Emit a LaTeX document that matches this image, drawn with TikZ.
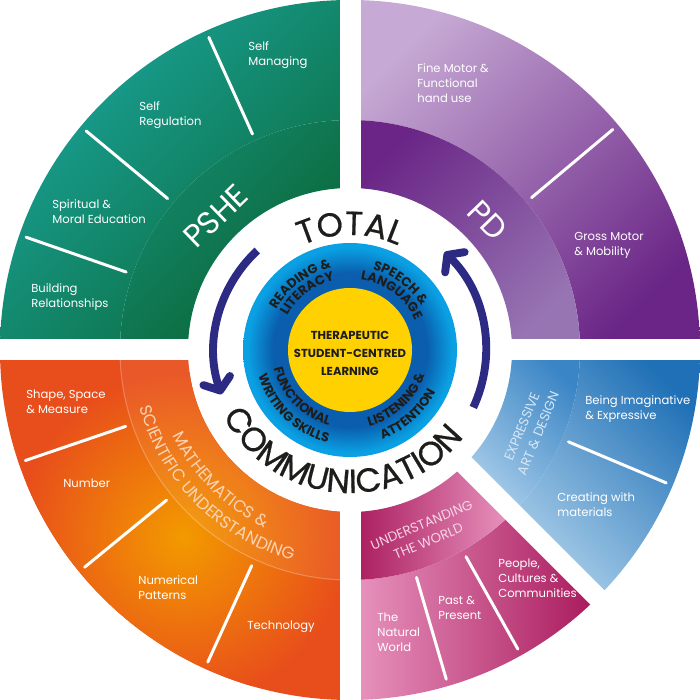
\documentclass[tikz,border=0pt]{standalone}
\usepackage{fontspec}
\setmainfont{Poppins}
\newfontfamily\ringfamily[FakeBold=0.6]{Poppins}
\usetikzlibrary{arrows.meta,decorations.text}

\definecolor{psheteal}{HTML}{1AA39A}
\definecolor{pshegreen}{HTML}{0B6B3C}
\definecolor{psheband}{HTML}{14896D}
\definecolor{pshebanddark}{HTML}{09612F}
\definecolor{pdlilac}{HTML}{C6A9D4}
\definecolor{pdpurple}{HTML}{6A2586}
\definecolor{pdband}{HTML}{9775B3}
\definecolor{mathorange}{HTML}{E84E1B}
\definecolor{mathglow}{HTML}{F39A00}
\definecolor{mathtext}{HTML}{FCD3B4}
\definecolor{eadlight}{HTML}{A8CDE9}
\definecolor{eadblue}{HTML}{1F70B6}
\definecolor{eadband}{HTML}{3A85C5}
\definecolor{eadtext}{HTML}{D6E7F5}
\definecolor{utwpink}{HTML}{E996C0}
\definecolor{utwmagenta}{HTML}{A8185B}
\definecolor{utwtext}{HTML}{F6D5E6}
\definecolor{ringcyan}{HTML}{0AA0E3}
\definecolor{ringblue}{HTML}{0A5EAD}
\definecolor{coreyellow}{HTML}{FFD100}
\definecolor{arrowindigo}{HTML}{2D2A84}
\definecolor{inktext}{HTML}{1D1D1B}

\pgfdeclareradialshading{ringshade}{\pgfpoint{0bp}{0bp}}{color(0bp)=(ringblue); color(18bp)=(ringblue); color(24bp)=(ringcyan); color(50bp)=(ringcyan)}

\newcommand\ringfont{\ringfamily\fontsize{19}{19}\selectfont}
\newcommand\bandfont{\fontsize{9.5}{9.5}\selectfont}
\newcommand\skillfont{\bfseries\fontsize{7.4}{7.4}\selectfont}

\tikzset{
  lbl/.style={text=white, font=\fontsize{6.6}{8.5}\selectfont, align=left, anchor=west, inner sep=0pt},
  divline/.style={white, line width=1.7pt, line cap=round},
  bandtitle/.style={font=\fontsize{18}{18}\selectfont, text=white, inner sep=0pt},
  smalltitle/.style={font=\fontsize{7.6}{10}\selectfont, align=center, inner sep=0pt},
  core/.style={font=\bfseries\fontsize{6.6}{10.2}\selectfont, align=center, text=inktext, inner sep=0pt},
  cycle arrow/.style={arrowindigo, line width=4.5pt, -{Straight Barb[length=6pt,width=16pt,round]}},
}

\begin{document}
\begin{tikzpicture}[scale=0.02]
\useasboundingbox (-350,-350) rectangle (350,350);

\newcommand\band[5]{\path[#5] (#1:#3) arc[start angle=#1,end angle=#2,radius=#3] -- (#2:#4) arc[start angle=#2,end angle=#1,radius=#4] -- cycle;}
\newcommand\divider[1]{\draw[divline] (#1:237) -- (#1:343);}
\newcommand\arctext[5]{\path[decorate, decoration={text along path, text align=center, text color=#5, text={#4}}] (#1:#3) arc[start angle=#1,end angle=#2,radius=#3];}

% quadrants
\band{90}{180}{230}{350}{top color=psheteal, bottom color=pshegreen, shading angle=45}
\band{90}{180}{162}{230}{top color=psheband, bottom color=pshebanddark, shading angle=45}
\band{0}{90}{230}{350}{top color=pdlilac, bottom color=pdpurple, shading angle=45}
\band{0}{90}{162}{230}{top color=pdpurple, bottom color=pdband, shading angle=45}
\band{180}{270}{162}{350}{fill=mathorange}
\begin{scope}
\clip (180:162) arc[start angle=180,end angle=270,radius=162] -- (270:350) arc[start angle=270,end angle=180,radius=350] -- cycle;
\shade[inner color=mathglow, outer color=mathorange] (-167,-187) circle (165);
\end{scope}
\band{180}{270}{162}{230}{fill=white, fill opacity=.06}
\draw[white, opacity=.25, line width=.6pt] (180:230) arc[start angle=180,end angle=270,radius=230];
\band{-45}{0}{230}{350}{top color=eadblue, bottom color=eadlight, shading angle=-45}
\band{-45}{0}{162}{230}{top color=eadband, bottom color=eadlight, shading angle=-45}
\band{-90}{-45}{230}{350}{left color=utwpink, right color=utwmagenta}
\band{-90}{-45}{162}{230}{left color=utwmagenta, right color=utwpink}

% gaps
\fill[white] (-350,-10.5) rectangle (350,10.5);
\fill[white] (-10.5,-350) rectangle (10.5,350);
\fill[white, rotate=-45] (0,-10) rectangle (360,10);

% dividers
\foreach \a in {114.3,140.3,160.8,40,198.8,219.3,245.5,-22.8,-60.7,-73.7}
  \divider{\a};

% labels
\node[lbl] (selfman) at (-102,294.5) {Self\\Managing};
\node[lbl] (selfreg) at (-211,234.5) {Self\\Regulation};
\node[lbl] (spiritual) at (-298,138.5) {Spiritual \&\\Moral Education};
\node[lbl] (building) at (-319,52.5) {Building\\Relationships};
\node[lbl] (finemotor) at (67,267) {Fine Motor \&\\Functional\\hand use};
\node[lbl] (grossmotor) at (224,104.5) {Gross Motor\\\& Mobility};
\node[lbl] (shape) at (-324,-52) {Shape, Space\\\& Measure};
\node[lbl] (number) at (-287,-133) {Number};
\node[lbl] (numerical) at (-212,-237.5) {Numerical\\Patterns};
\node[lbl] (technology) at (-103,-277) {Technology};
\node[lbl] (imaginative) at (235,-59.5) {Being Imaginative\\\& Expressive};
\node[lbl] (creating) at (207,-154.5) {Creating with\\materials};
\node[lbl] (natural) at (27,-282) {The\\Natural\\World};
\node[lbl] (past) at (88,-257.5) {Past \&\\Present};
\node[lbl] (people) at (148,-228) {People,\\Cultures \&\\Communities};

% band titles
\node[bandtitle, rotate=44] (pshe) at (-134,134) {PSHE};
\node[bandtitle, rotate=-46] (pd) at (138,130) {PD};
\node[smalltitle, text=eadtext, rotate=67.5] (ead) at (180,-80) {EXPRESSIVE\\ART \& DESIGN};
\node[smalltitle, text=utwtext, rotate=22.5] (utw) at (75,-183) {UNDERSTANDING\\THE WORLD};
\arctext{180}{270}{197}{|\bandfont|MATHEMATICS {\&}}{mathtext}
\arctext{172}{278}{218}{|\bandfont|SCIENTIFIC UNDERSTANDING}{mathtext}

% centre
\shade[shading=ringshade] (0,0) circle (107);
\fill[coreyellow] (0,0) circle (62);
\node[core] (core) at (0,-3) {THERAPEUTIC\\STUDENT-CENTRED\\LEARNING};
\arctext{177}{77}{84}{|\skillfont|READING {\&}}{inktext}
\arctext{177}{77}{71.5}{|\skillfont|LITERACY}{inktext}
\arctext{103}{3}{84}{|\skillfont|SPEECH {\&}}{inktext}
\arctext{103}{3}{71.5}{|\skillfont|LANGUAGE}{inktext}
\arctext{174}{274}{78.5}{|\skillfont|FUNCTIONAL}{inktext}
\arctext{176}{276}{95}{|\skillfont|WRITING SKILLS}{inktext}
\arctext{263}{363}{78.5}{|\skillfont|LISTENING {\&}}{inktext}
\arctext{262}{362}{95}{|\skillfont|ATTENTION}{inktext}

% total communication
\arctext{160}{20}{115}{|\ringfont|TOTAL}{inktext}
\arctext{185}{345}{143}{|\ringfont|COMMUNICATION}{inktext}
\draw[cycle arrow] (133:136) arc[start angle=133,end angle=199,radius=136];
\draw[cycle arrow] (-25:136) arc[start angle=-25,end angle=46,radius=136];
\end{tikzpicture}
\end{document}
